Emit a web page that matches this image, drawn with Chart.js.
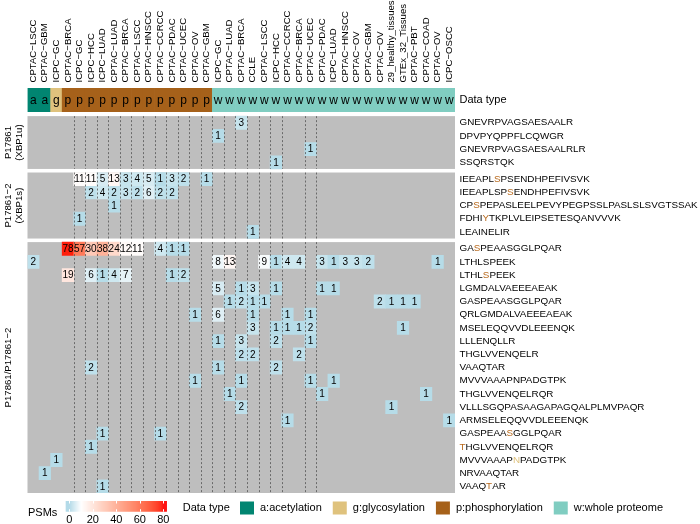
<!DOCTYPE html>
<html>
<head>
<meta charset="utf-8">
<script src="https://cdn.jsdelivr.net/npm/chart.js@4.4.0/dist/chart.umd.min.js"></script>
<style>
  body { margin: 0; background: #fff; }
</style>
</head>
<body>
<canvas id="heat" width="700" height="524"></canvas>
<script>
// column (dataset) names, left to right
const columns = ['CPTAC−LSCC','CPTAC−GBM','ICPC−GC','CPTAC−BRCA','ICPC−GC','ICPC−HCC','ICPC−LUAD',
  'CPTAC−LUAD','CPTAC−BRCA','CPTAC−LSCC','CPTAC−HNSCC','CPTAC−CCRCC','CPTAC−PDAC','CPTAC−UCEC',
  'CPTAC−OV','CPTAC−GBM','ICPC−GC','CPTAC−LUAD','CPTAC−BRCA','CCLE','CPTAC−LSCC','ICPC−HCC',
  'CPTAC−CCRCC','CPTAC−BRCA','CPTAC−UCEC','CPTAC−PDAC','ICPC−LUAD','CPTAC−HNSCC','CPTAC−OV',
  'CPTAC−GBM','CPTAC−OV','29_healthy_tissues','GTEx_32_Tissues','CPTAC−PBT','CPTAC−COAD',
  'CPTAC−OV','ICPC−OSCC'];
const dataTypes = 'aagpppppppppppppwwwwwwwwwwwwwwwwwwwww'.split('');
const typeNames = { a: 'a:acetylation', g: 'g:glycosylation', p: 'p:phosphorylation', w: 'w:whole proteome' };
const typeColors = { a: '#018571', g: '#dfc27d', p: '#a6611a', w: '#80cdc1' };

// row groups
const groupTitles = [['P17861', '(XBP1u)'], ['P17861−2', '(XBP1s)'], ['P17861/P17861−2']];
const groupSizes = [4, 5, 19];

// peptides, with the index of the modified residue (-1 = none)
const peptides = ['GNEVRPVAGSAESAALR','DPVPYQPPFLCQWGR','GNEVRPVAGSAESAALRLR','SSQRSTQK',
  'IEEAPLSPSENDHPEFIVSVK','IEEAPLSPSENDHPEFIVSVK','CPSPEPASLEELPEVYPEGPSSLPASLSLSVGTSSAK',
  'FDHIYTKPLVLEIPSETESQANVVVK','LEAINELIR',
  'GASPEAASGGLPQAR','LTHLSPEEK','LTHLSPEEK','LGMDALVAEEEAEAK','GASPEAASGGLPQAR','QRLGMDALVAEEEAEAK',
  'MSELEQQVVDLEEENQK','LLLENQLLR','THGLVVENQELR','VAAQTAR','MVVVAAAPNPADGTPK','THGLVVENQELRQR',
  'VLLLSGQPASAAGAPAGQALPLMVPAQR','ARMSELEQQVVDLEEENQK','GASPEAASGGLPQAR','THGLVVENQELRQR',
  'MVVVAAAPNPADGTPK','NRVAAQTAR','VAAQTAR'];
const siteIndex = [-1,-1,-1,-1, 6,8,2,4,-1, 2,-1,4,-1,-1,-1,-1,-1,-1,-1,-1,-1,-1,-1,7,0,8,-1,4];
const siteType  = ['','','','', 'p','p','p','p','', 'p','','p','','','','','','','','','','','','p','p','g','','p'];

// PSM counts per peptide row: [column number (1-based), PSMs]
const psms = [
  [[19,3]],
  [[17,1]],
  [[25,1]],
  [[22,1]],
  [[5,11],[6,11],[7,5],[8,13],[9,3],[10,4],[11,5],[12,1],[13,3],[14,2],[16,1]],
  [[6,2],[7,4],[8,2],[9,3],[10,2],[11,6],[12,2],[13,2]],
  [[8,1]],
  [[5,1]],
  [[20,1]],
  [[4,78],[5,57],[6,30],[7,38],[8,24],[9,12],[10,11],[12,4],[13,1],[14,1]],
  [[1,2],[17,8],[18,13],[21,9],[22,1],[23,4],[24,4],[26,3],[27,1],[28,3],[29,3],[30,2],[36,1]],
  [[4,19],[6,6],[7,1],[8,4],[9,7],[13,1],[14,2]],
  [[17,5],[19,1],[20,3],[22,1],[26,1],[27,1]],
  [[18,1],[19,2],[20,1],[21,1],[31,2],[32,1],[33,1],[34,1]],
  [[15,1],[17,6],[20,1],[23,1],[25,1]],
  [[20,3],[22,1],[23,1],[24,1],[25,2],[33,1]],
  [[17,1],[19,3],[22,2],[25,1]],
  [[19,2],[20,2],[24,2]],
  [[6,2],[17,1],[22,2]],
  [[15,1],[19,1],[25,1],[27,1]],
  [[18,1],[26,1],[35,1]],
  [[19,2],[32,1]],
  [[23,1],[37,1]],
  [[7,1],[12,1]],
  [[6,1]],
  [[3,1]],
  [[2,1]],
  [[7,1]]
];

// column boundaries (after column n) that carry a dashed separator
const dashedAfter = [4,5,6,7,8,9,10,11,12,13,14,15,16,17,18,19,20,21,22,24,25];

// colour scale for PSMs
const psmStops = [0, 10, 80];
const psmStopColors = ['#add8e6', '#ffffff', '#ff0000'];
const legendTicks = [0, 20, 40, 60, 80];

const FONT = "'Liberation Sans', Arial, Helvetica, sans-serif";
const GAP = 0.27;          // gap between row groups, in row units
const ANNO = [-2.13, -0.33];

// ---- LAB interpolation (like colorRamp2) ----
function hexToRgb(h) {
  const n = parseInt(h.slice(1), 16);
  return [(n >> 16) & 255, (n >> 8) & 255, n & 255];
}
function toLin(c) { c /= 255; return c <= 0.04045 ? c / 12.92 : Math.pow((c + 0.055) / 1.055, 2.4); }
function fromLin(c) {
  c = c <= 0.0031308 ? 12.92 * c : 1.055 * Math.pow(c, 1 / 2.4) - 0.055;
  return Math.round(Math.max(0, Math.min(1, c)) * 255);
}
function rgbToLab(rgb) {
  const [R, G, B] = rgb.map(toLin);
  const f = t => t > 0.008856 ? Math.cbrt(t) : 7.787 * t + 16 / 116;
  const fx = f((0.4124 * R + 0.3576 * G + 0.1805 * B) / 0.95047);
  const fy = f(0.2126 * R + 0.7152 * G + 0.0722 * B);
  const fz = f((0.0193 * R + 0.1192 * G + 0.9505 * B) / 1.08883);
  return [116 * fy - 16, 500 * (fx - fy), 200 * (fy - fz)];
}
function labToRgb([L, a, b]) {
  const fy = (L + 16) / 116, fx = fy + a / 500, fz = fy - b / 200;
  const g = t => t * t * t > 0.008856 ? t * t * t : (t - 16 / 116) / 7.787;
  const X = g(fx) * 0.95047, Y = g(fy), Z = g(fz) * 1.08883;
  const R = 3.2406 * X - 1.5372 * Y - 0.4986 * Z;
  const G = -0.9689 * X + 1.8758 * Y + 0.0415 * Z;
  const B = 0.0557 * X - 0.2040 * Y + 1.0570 * Z;
  return [fromLin(R), fromLin(G), fromLin(B)];
}
const stopLabs = psmStopColors.map(c => rgbToLab(hexToRgb(c)));
function psmColor(v) {
  v = Math.max(psmStops[0], Math.min(psmStops[psmStops.length - 1], v));
  let k = 0;
  while (k < psmStops.length - 2 && v > psmStops[k + 1]) k++;
  const t = (v - psmStops[k]) / (psmStops[k + 1] - psmStops[k]);
  const lab = stopLabs[k].map((c, j) => c + (stopLabs[k + 1][j] - c) * t);
  const [r, g, b] = labToRgb(lab);
  return `rgb(${r},${g},${b})`;
}

// row top positions in row units, with gaps between groups
const rowTop = [];
const groupRange = [];
let pos = 0;
groupSizes.forEach((n, g) => {
  const start = pos;
  for (let i = 0; i < n; i++) rowTop.push(pos + i);
  pos += n;
  groupRange.push([start, pos]);
  pos += GAP;
});
const yMax = pos - GAP;

// datasets: annotation row + one per peptide
const datasets = [{
  label: 'Data type',
  data: columns.map(() => ANNO.slice()),
  backgroundColor: dataTypes.map(t => typeColors[t]),
  kind: 'anno'
}];
psms.forEach((cells, r) => {
  const vals = columns.map(() => null);
  cells.forEach(([c, v]) => { vals[c - 1] = v; });
  datasets.push({
    label: peptides[r],
    data: vals.map(v => v == null ? null : [rowTop[r], rowTop[r] + 1]),
    backgroundColor: vals.map(v => v == null ? 'rgba(0,0,0,0)' : psmColor(v)),
    values: vals,
    kind: 'cell'
  });
});

const decor = {
  id: 'decor',
  beforeDatasetsDraw(chart) {
    const { ctx, chartArea: a, scales: { y } } = chart;
    ctx.save();
    ctx.fillStyle = '#bebebe';
    groupRange.forEach(([s, e]) => {
      const t = y.getPixelForValue(s), b = y.getPixelForValue(e);
      ctx.fillRect(a.left, t, a.right - a.left, b - t);
    });
    ctx.restore();
  },
  afterDatasetsDraw(chart) {
    const { ctx, scales: { x, y } } = chart;
    ctx.save();
    // dashed separators
    ctx.strokeStyle = '#555';
    ctx.lineWidth = 0.8;
    ctx.setLineDash([2, 2]);
    dashedAfter.forEach(n => {
      const px = Math.round((x.getPixelForValue(n - 1) + x.getPixelForValue(n)) / 2) + 0.5;
      groupRange.forEach(([s, e]) => {
        ctx.beginPath();
        ctx.moveTo(px, y.getPixelForValue(s));
        ctx.lineTo(px, y.getPixelForValue(e));
        ctx.stroke();
      });
    });
    ctx.setLineDash([]);
    // numbers and annotation letters
    ctx.textAlign = 'center';
    ctx.textBaseline = 'middle';
    ctx.fillStyle = '#000';
    chart.data.datasets.forEach((ds, d) => {
      const meta = chart.getDatasetMeta(d);
      meta.data.forEach((el, i) => {
        if (ds.data[i] == null) return;
        const cy = (el.y + el.base) / 2;
        if (ds.kind === 'anno') {
          ctx.font = `12px ${FONT}`;
          ctx.fillText(dataTypes[i], el.x, cy + 0.5);
        } else {
          ctx.font = `10px ${FONT}`;
          ctx.fillText(String(ds.values[i]), el.x, cy + 0.5);
        }
      });
    });
    ctx.restore();
  },
  afterDraw(chart) {
    const { ctx, chartArea: a, scales: { x, y } } = chart;
    ctx.save();
    ctx.fillStyle = '#000';
    // column labels
    ctx.font = `9.6px ${FONT}`;
    ctx.textAlign = 'left';
    ctx.textBaseline = 'middle';
    columns.forEach((lab, i) => {
      ctx.save();
      ctx.translate(x.getPixelForValue(i), 82.5);
      ctx.rotate(-Math.PI / 2);
      ctx.fillText(lab, 0, 0);
      ctx.restore();
    });
    // annotation name
    ctx.font = `11px ${FONT}`;
    ctx.fillText('Data type', a.right + 4.5, (y.getPixelForValue(ANNO[0]) + y.getPixelForValue(ANNO[1])) / 2);
    // row labels with highlighted residue
    ctx.font = `9.85px ${FONT}`;
    peptides.forEach((p, r) => {
      const cy = y.getPixelForValue(rowTop[r] + 0.5);
      let px = a.right + 4.5;
      const k = siteIndex[r];
      if (k < 0) { ctx.fillStyle = '#000'; ctx.fillText(p, px, cy); return; }
      const parts = [p.slice(0, k), p[k], p.slice(k + 1)];
      parts.forEach((s, j) => {
        ctx.fillStyle = j === 1 ? (siteType[r] === 'g' ? '#dfc27d' : '#b8691c') : '#000';
        ctx.fillText(s, px, cy);
        px += ctx.measureText(s).width;
      });
    });
    // group titles
    ctx.fillStyle = '#000';
    ctx.font = `9.6px ${FONT}`;
    ctx.textAlign = 'center';
    groupTitles.forEach((lines, g) => {
      const [s, e] = groupRange[g];
      const cy = (y.getPixelForValue(s) + y.getPixelForValue(e)) / 2;
      lines.forEach((t, j) => {
        ctx.save();
        ctx.translate(8.5 + j * 11, cy);
        ctx.rotate(-Math.PI / 2);
        ctx.fillText(t, 0, 0);
        ctx.restore();
      });
    });
    // PSM colour legend
    ctx.textAlign = 'left';
    ctx.font = `11px ${FONT}`;
    ctx.fillText('PSMs', 28, 513);
    const lx0 = 69.3, lx1 = 163.3, barL = 65.7, barR = 166.7, barT = 501, barB = 511.7;
    const toX = v => lx0 + (v - legendTicks[0]) * (lx1 - lx0) / (legendTicks[legendTicks.length - 1] - legendTicks[0]);
    const toV = px => legendTicks[0] + (px - lx0) * (legendTicks[legendTicks.length - 1] - legendTicks[0]) / (lx1 - lx0);
    for (let px = barL; px < barR; px += 1) {
      ctx.fillStyle = psmColor(toV(px + 0.5));
      ctx.fillRect(px, barT, 1.2, barB - barT);
    }
    ctx.strokeStyle = '#fff';
    ctx.lineWidth = 1;
    ctx.textAlign = 'center';
    ctx.fillStyle = '#000';
    legendTicks.forEach(v => {
      const px = Math.round(toX(v)) + 0.5;
      ctx.beginPath();
      ctx.moveTo(px, barT); ctx.lineTo(px, barT + 2.5);
      ctx.moveTo(px, barB - 2.5); ctx.lineTo(px, barB);
      ctx.stroke();
      ctx.fillText(String(v), toX(v), 520);
    });
    // data type legend
    ctx.textAlign = 'left';
    ctx.fillText('Data type', 182.7, 508);
    let lx = 240;
    Object.keys(typeNames).forEach(t => {
      ctx.fillStyle = typeColors[t];
      ctx.fillRect(lx, 501.5, 14, 13);
      ctx.fillStyle = '#000';
      ctx.fillText(typeNames[t], lx + 20, 508);
      lx += 20 + ctx.measureText(typeNames[t]).width + 11;
    });
    ctx.restore();
  }
};

new Chart(document.getElementById('heat'), {
  type: 'bar',
  data: { labels: columns, datasets },
  options: {
    responsive: false,
    devicePixelRatio: 1,
    animation: false,
    layout: { padding: { left: 27.5, right: 245, top: 88, bottom: 31 } },
    datasets: { bar: { grouped: false, barPercentage: 1, categoryPercentage: 1, borderWidth: 0 } },
    scales: {
      x: { type: 'category', display: false, offset: true },
      y: { type: 'linear', display: false, reverse: true, min: ANNO[0], max: yMax }
    },
    plugins: { legend: { display: false }, tooltip: { enabled: false } }
  },
  plugins: [decor]
});
</script>
</body>
</html>
